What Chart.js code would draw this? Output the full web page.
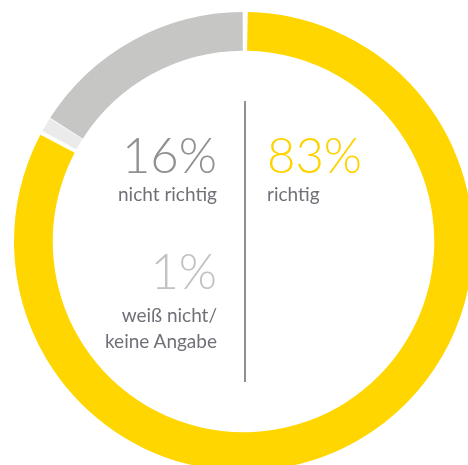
<!DOCTYPE html>
<html><head><meta charset="utf-8">
<script src="https://cdn.jsdelivr.net/npm/chart.js@4/dist/chart.umd.min.js"></script>
<style>
html,body{margin:0;padding:0;background:#fff;overflow:hidden;width:468px;height:465px;}
#wrap{position:absolute;left:0;top:0;width:487px;height:483px;}
.t{position:absolute;font-family:Lato,"Open Sans",sans-serif;white-space:nowrap;line-height:1;}
.big{font-size:49px;font-weight:300;}
.lab{font-size:19px;color:#707078;font-weight:400;}
#vline{position:absolute;left:244px;top:101px;width:2px;height:281px;background:#8f8f95;}
</style></head><body>
<div id="wrap"><canvas id="c"></canvas></div>
<div id="vline"></div>
<div class="t big" id="p2" style="right:251px;top:130px;color:#909094;"></div>
<div class="t lab" id="l2" style="right:251px;top:184px;"></div>
<div class="t big" id="p0" style="left:267px;top:130px;color:#FFD200;"></div>
<div class="t lab" id="l0" style="left:267px;top:184px;"></div>
<div class="t big" id="p1" style="right:251px;top:246px;color:#C2C2C4;"></div>
<div class="t lab" id="l1" style="right:251px;top:302px;text-align:right;line-height:26px;"></div>
<script>
const categories = ["richtig", "weiß nicht/ keine Angabe", "nicht richtig"];
const labelLines = [["richtig"], ["weiß nicht/", "keine Angabe"], ["nicht richtig"]];
const values = [83, 1, 16];
const colors = ["#FFD600", "#EBEBEB", "#C6C6C5"];

values.forEach((v,i)=>{
  document.getElementById('p'+i).textContent = v + '%';
  document.getElementById('l'+i).innerHTML = labelLines[i].join('<br>');
});

new Chart(document.getElementById('c'), {
  type: 'doughnut',
  data: {
    labels: categories,
    datasets: [{
      data: values,
      backgroundColor: colors,
      borderWidth: 0,
      spacing: 3
    }]
  },
  options: {
    responsive: true,
    maintainAspectRatio: false,
    animation: false,
    cutout: '83%',
    rotation: 0,
    layout: { padding: 12 },
    plugins: { legend: { display: false }, tooltip: { enabled: false } }
  }
});
</script>
</body></html>
